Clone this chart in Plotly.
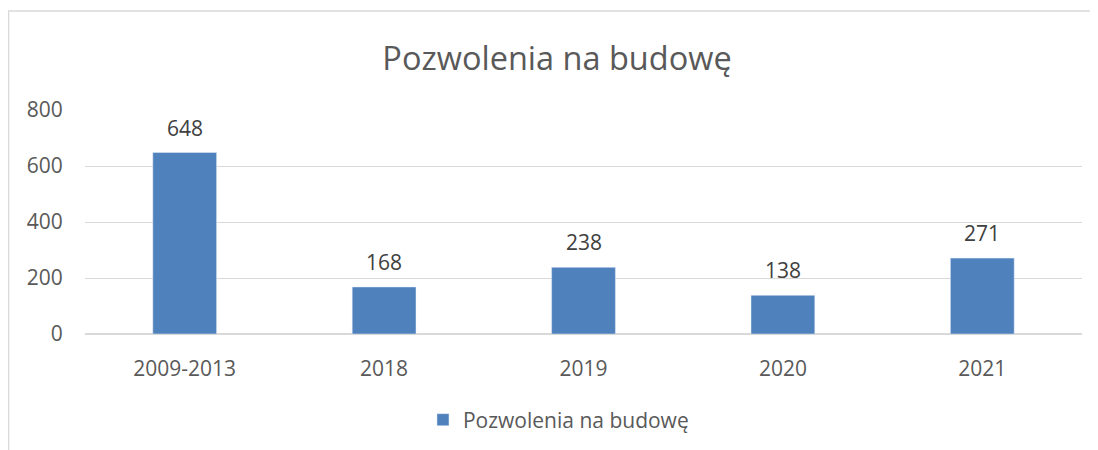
import plotly.graph_objects as go

categories = ["2009-2013", "2018", "2019", "2020", "2021"]
values = [648, 168, 238, 138, 271]
series_name = "Pozwolenia na budowę"

FONT = "Open Sans, sans-serif"
GREY = "#595959"

fig = go.Figure(
    go.Bar(
        x=categories,
        y=values,
        name=series_name,
        marker_color="#4F81BD",
        showlegend=True,
    )
)

# data labels sit a bit higher than plotly's "outside" text;
# category index is used since "2018" etc. would be read as an index
for i, val in enumerate(values):
    fig.add_annotation(
        x=i,
        y=val,
        text=str(val),
        showarrow=False,
        yanchor="middle",
        yshift=25,
        font=dict(size=21, color="#404040"),
    )

fig.update_layout(
    width=1098,
    height=450,
    margin=dict(l=77, r=24, t=102, b=124),
    paper_bgcolor="white",
    plot_bgcolor="white",
    font=dict(family=FONT, color=GREY, size=21),
    title=dict(
        text="Pozwolenia na budowę",
        x=0.5,
        xanchor="center",
        y=0.888,
        yanchor="middle",
        font=dict(size=32.5, color=GREY),
    ),
    bargap=0.68,
    legend=dict(
        orientation="h",
        x=0.339,
        xanchor="left",
        y=-0.384,
        yanchor="middle",
        font=dict(size=21, color=GREY),
    ),
    xaxis=dict(
        type="category",
        range=[-0.5, len(categories) - 0.5],
        showgrid=False,
        showline=False,
        ticks="outside",
        ticklen=16,
        tickcolor="rgba(0,0,0,0)",
        tickfont=dict(size=21, color=GREY),
    ),
    yaxis=dict(
        range=[0, 800],
        dtick=200,
        showgrid=True,
        gridcolor="#D9D9D9",
        gridwidth=1,
        zeroline=True,
        zerolinecolor="#D9D9D9",
        showline=False,
        ticks="outside",
        ticklen=17,
        tickcolor="rgba(0,0,0,0)",
        tickfont=dict(size=21, color=GREY),
    ),
    shapes=[
        dict(
            type="rect",
            xref="paper",
            yref="paper",
            x0=-0.0767,
            x1=1.2,
            y0=-1.0,
            y1=1.442,
            line=dict(color="#D9D9D9", width=1.5),
            layer="below",
        )
    ],
)

fig.write_html("out.html")
